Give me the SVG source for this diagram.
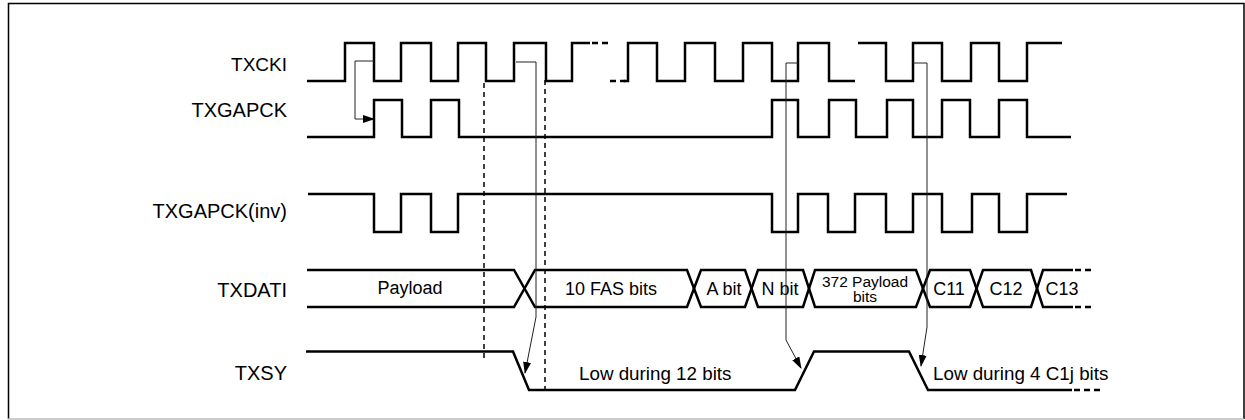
<svg xmlns="http://www.w3.org/2000/svg" width="1245" height="420" viewBox="0 0 1245 420">
<style>
.sig{fill:none;stroke:#000;stroke-width:2.5;stroke-linejoin:miter}
.dsig{fill:none;stroke:#000;stroke-width:2.5;stroke-dasharray:6,4}
.guide{fill:none;stroke:#000;stroke-width:1.5;stroke-dasharray:5,4}
.conn{fill:none;stroke:#222;stroke-width:1}
.lbl{font-family:"Liberation Sans",Arial,sans-serif;font-size:18px;fill:#000}
.name{font-size:20px}
.low{font-size:18.8px}
.r{text-anchor:end}
.c{text-anchor:middle}
.sm{font-size:15.5px}
</style>
<defs>
<marker id="ah" markerUnits="userSpaceOnUse" markerWidth="12" markerHeight="8" refX="11" refY="4" orient="auto">
<path d="M0,0 L12,4 L0,8 Z" fill="#000"/>
</marker>
</defs>
<rect x="0" y="0" width="1245" height="420" fill="#fff"/>
<g id="frame">
<path d="M8.5,419 V3.5 H1244 V419" fill="none" stroke="#000" stroke-width="1.5"/>
<path d="M8,419 H1244" fill="none" stroke="#bbb" stroke-width="1.5"/>
</g>
<g id="labels">
<text class="lbl name r" x="287" y="71" style="font-size:19px">TXCKI</text>
<text class="lbl name r" x="287" y="117">TXGAPCK</text>
<text class="lbl name r" x="287" y="218">TXGAPCK(inv)</text>
<text class="lbl name r" x="287" y="297">TXDATI</text>
<text class="lbl name r" x="287" y="380">TXSY</text>
</g>
<g id="TXCKI">
<path class="sig" d="M307,81 H345 V43 H374 V81 H401 V43 H431 V81 H458 V43 H486 V81 H514 V43 H546 V81 H572 V43 H590"/>
<path class="dsig" d="M592,43 H609"/>
<path class="dsig" d="M610,81 H625"/>
<path class="sig" d="M624,81 H628 V43 H657 V81 H685 V43 H715 V81 H743 V43 H772 V81 H798 V43 H829 V81 H855"/>
<path class="sig" d="M858,43 H886 V81 H913 V43 H942 V81 H971 V43 H999 V81 H1027 V43 H1062"/>
</g>
<g id="TXGAPCK">
<path class="sig" d="M307,137 H374 V100 H402 V137 H431 V100 H459 V137 H772 V100 H798 V137 H829 V100 H856 V137 H887 V100 H913 V137 H942 V100 H970 V137 H999 V100 H1027 V137 H1071"/>
</g>
<g id="TXGAPCK_inv">
<path class="sig" d="M308,194 H374 V232 H401 V194 H431 V232 H458 V194 H772 V232 H798 V194 H828 V232 H855 V194 H886 V232 H913 V194 H942 V232 H972 V194 H999 V232 H1027 V194 H1067"/>
</g>
<g id="TXDATI">
<path class="sig" d="M307,270 H514 L535,307 H687 L701,270 H745 L758,307 H803 L815,270 H916 L930,307 H970 L983,270 H1031 L1043,307 H1073"/>
<path class="sig" d="M307,307 H514 L535,270 H687 L701,307 H745 L758,270 H803 L815,307 H916 L930,270 H970 L983,307 H1031 L1043,270 H1073"/>
<path class="dsig" d="M1075,270 H1091 M1075,307 H1091"/>
<text class="lbl c" x="410" y="294">Payload</text>
<text class="lbl c" x="611" y="295">10 FAS bits</text>
<text class="lbl c" x="724" y="295">A bit</text>
<text class="lbl c" x="780" y="295">N bit</text>
<text class="lbl c sm" x="865" y="287">372 Payload</text>
<text class="lbl c sm" x="865" y="302">bits</text>
<text class="lbl c" x="949" y="295">C11</text>
<text class="lbl c" x="1006" y="295">C12</text>
<text class="lbl c" x="1062" y="295">C13</text>
</g>
<g id="TXSY">
<path class="sig" d="M306,351.5 H513 L529,390 H795 L814,351.5 H909 L928,390 H1072"/>
<path class="dsig" d="M1074,390 H1100"/>
<text class="lbl low" x="579" y="380">Low during 12 bits</text>
<text class="lbl low" x="933" y="380">Low during 4 C1j bits</text>
</g>
<g id="guides">
<path class="guide" d="M484,83 V362"/>
<path class="guide" d="M545,80 V395"/>
</g>
<g id="connectors">
<path class="conn" d="M374,61 H355 V119 H374" marker-end="url(#ah)"/>
<path class="conn" d="M516,62 H536 V317 L525,373" marker-end="url(#ah)"/>
<path class="conn" d="M798,63 H786 V340 L801,368" marker-end="url(#ah)"/>
<path class="conn" d="M913,63 H927 V327 L921,366" marker-end="url(#ah)"/>
</g>
</svg>
